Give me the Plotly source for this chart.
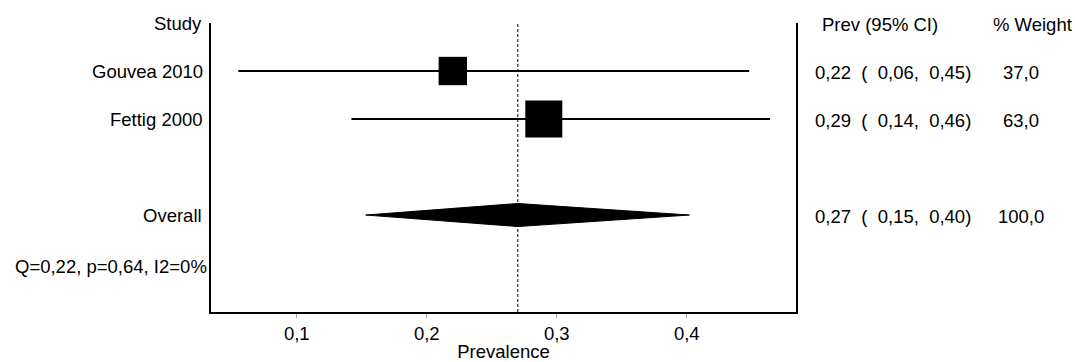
import plotly.graph_objects as go

# ---- data ----
studies = ["Gouvea 2010", "Fettig 2000"]
prev = [0.22, 0.29]
ci_low = [0.055, 0.142]
ci_high = [0.448, 0.464]
weights = [37.0, 63.0]

overall_prev = 0.27
overall_low = 0.153
overall_high = 0.402
overall_weight = 100.0

het_Q = 0.22
het_p = 0.64
het_I2 = 0

x_ticks = [0.1, 0.2, 0.3, 0.4]
x_ticklabels = ["0,1", "0,2", "0,3", "0,4"]

# ---- layout helpers ----
W, H = 1075, 362
L, R, T, B = 211, 796, 23, 312
FONT = "Arial, 'Liberation Sans', sans-serif"
FS = 18.5
NB = "\u00a0"


def fmt(v, d=2):
    return f"{v:.{d}f}".replace(".", ",")


def px2paper(px):
    return (px - L) / (R - L)


n = len(studies)
rows = list(range(1, n + 1))
overall_row = n + 2
het_row = n + 3.08

fig = go.Figure()

# CI lines
for r, lo, hi in zip(rows, ci_low, ci_high):
    fig.add_trace(go.Scatter(x=[lo, hi], y=[r, r], mode="lines",
                             line=dict(color="black", width=1.8),
                             showlegend=False, hoverinfo="skip"))

# squares sized by weight (area proportional)
k = 37 / (63 ** 0.5)
fig.add_trace(go.Scatter(x=prev, y=rows, mode="markers",
                         marker=dict(symbol="square", color="black", opacity=1,
                                     size=[k * w ** 0.5 for w in weights],
                                     line=dict(width=0)),
                         showlegend=False, hoverinfo="skip"))

# overall diamond
dh = 0.24
fig.add_trace(go.Scatter(
    x=[overall_low, overall_prev, overall_high, overall_prev, overall_low],
    y=[overall_row, overall_row - dh, overall_row, overall_row + dh, overall_row],
    mode="lines", fill="toself", fillcolor="black",
    line=dict(color="black", width=1), showlegend=False, hoverinfo="skip"))

# dashed reference line at overall
fig.add_shape(type="line", x0=overall_prev, x1=overall_prev, y0=0, y1=1,
              xref="x", yref="paper",
              line=dict(color="black", width=1, dash="3px,2px"))

ann = []
font = dict(family=FONT, size=FS, color="black")

# left column
ann.append(dict(text="Study", x=px2paper(204), y=0.02, xref="paper", yref="y",
                xanchor="right", yanchor="middle", showarrow=False, font=font))
for r, s in zip(rows, studies):
    ann.append(dict(text=s, x=px2paper(205), y=r, xref="paper", yref="y",
                    xanchor="right", yanchor="middle", showarrow=False, font=font))
ann.append(dict(text="Overall", x=px2paper(204), y=overall_row, xref="paper", yref="y",
                xanchor="right", yanchor="middle", showarrow=False, font=font))
ann.append(dict(text=f"Q={fmt(het_Q)}, p={fmt(het_p)}, I2={het_I2}%", x=px2paper(209),
                y=het_row, xref="paper", yref="y",
                xanchor="right", yanchor="middle", showarrow=False, font=font))

# right columns
ann.append(dict(text="Prev (95% CI)", x=px2paper(820), y=0.04, xref="paper", yref="y",
                xanchor="left", yanchor="middle", showarrow=False, font=font))
ann.append(dict(text="% Weight", x=px2paper(991), y=0.04, xref="paper", yref="y",
                xanchor="left", yanchor="middle", showarrow=False, font=font))


def ci_text(p, lo, hi):
    return f"{fmt(p)}{NB}{NB}({NB}{NB}{fmt(lo)},{NB}{NB}{fmt(hi)})"


for r, p, lo, hi, w in zip(rows, prev, ci_low, ci_high, weights):
    ann.append(dict(text=ci_text(p, lo, hi), x=px2paper(813), y=r + 0.04, xref="paper",
                    yref="y", xanchor="left", yanchor="middle", showarrow=False, font=font))
    ann.append(dict(text=fmt(w, 1), x=px2paper(1021), y=r + 0.04, xref="paper",
                    yref="y", xanchor="center", yanchor="middle", showarrow=False, font=font))
ann.append(dict(text=ci_text(overall_prev, overall_low, overall_high), x=px2paper(813),
                y=overall_row + 0.04, xref="paper", yref="y", xanchor="left",
                yanchor="middle", showarrow=False, font=font))
ann.append(dict(text=fmt(overall_weight, 1), x=px2paper(1021), y=overall_row + 0.04,
                xref="paper", yref="y", xanchor="center", yanchor="middle",
                showarrow=False, font=font))

fig.update_layout(
    width=W, height=H,
    margin=dict(l=L, r=W - R, t=T, b=H - B, pad=0, autoexpand=False),
    paper_bgcolor="white", plot_bgcolor="white",
    font=font,
    annotations=ann,
    showlegend=False,
    xaxis=dict(range=[0.034, 0.484], tickvals=x_ticks, ticktext=x_ticklabels,
               automargin=False,
               showgrid=False, zeroline=False, showline=True, linecolor="black",
               linewidth=2, ticks="outside", ticklen=4, tickcolor="#999999",
               tickwidth=1, tickfont=font,
               title=dict(text="Prevalence", font=font, standoff=2)),
    yaxis=dict(range=[6.02, 0], showgrid=False, zeroline=False, showline=True,
               automargin=False,
               mirror=True, linecolor="black", linewidth=2, showticklabels=False,
               ticks=""),
)

fig.write_html("out.html",
               config={"displayModeBar": False, "staticPlot": True},
               post_script="document.body.style.margin='0';"
                           "document.body.style.overflow='hidden';")
